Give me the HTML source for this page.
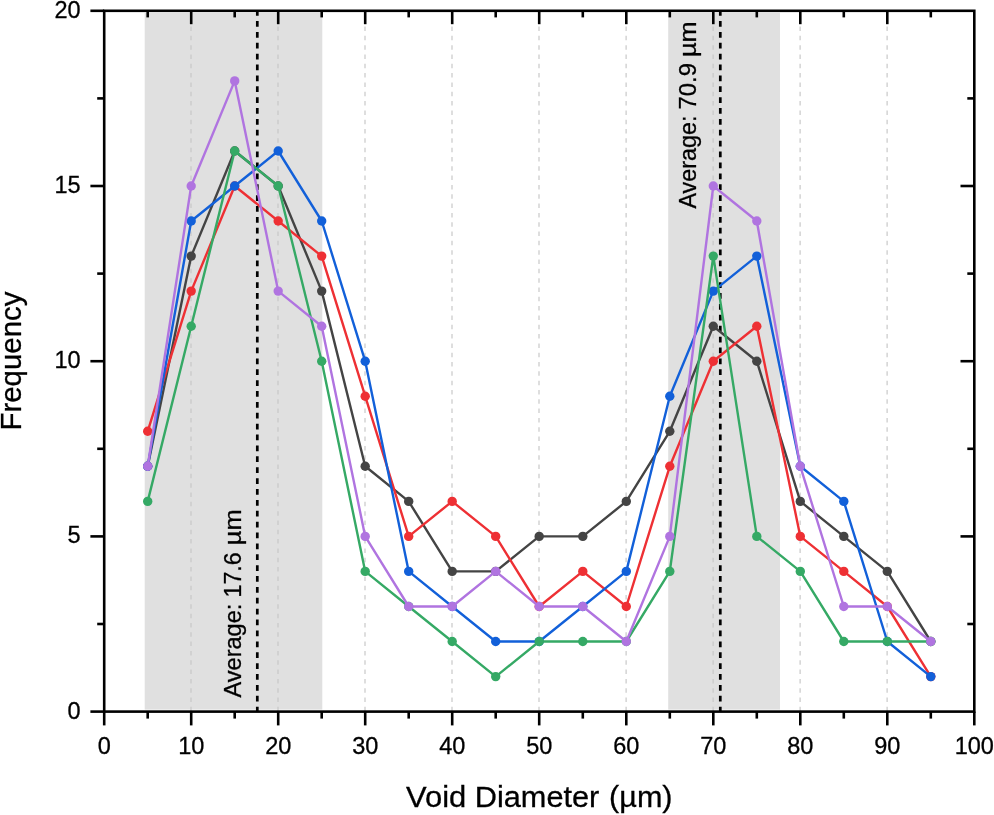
<!DOCTYPE html>
<html><head><meta charset="utf-8"><title>Void Diameter Frequency</title>
<style>html,body{margin:0;padding:0;background:#fff;}body{width:994px;height:815px;overflow:hidden;font-family:"Liberation Sans",sans-serif;}svg{display:block;will-change:transform;}text{font-family:"Liberation Sans",sans-serif;fill:#000;stroke:#000;stroke-width:0.3px;}</style></head><body>
<svg width="994" height="815" viewBox="0 0 994 815">
<rect width="994" height="815" fill="#fff"/>
<rect x="144.7" y="12.8" width="177.6" height="696.8" fill="#e0e0e0"/>
<rect x="668.2" y="12.8" width="111.8" height="696.8" fill="#e0e0e0"/>
<line x1="191.0" y1="26.5" x2="191.0" y2="711.6" stroke="#c6c6c6" stroke-width="1.15" stroke-dasharray="4.5 4.82"/>
<line x1="278.0" y1="26.5" x2="278.0" y2="711.6" stroke="#c6c6c6" stroke-width="1.15" stroke-dasharray="4.5 4.82"/>
<line x1="365.0" y1="26.5" x2="365.0" y2="711.6" stroke="#c6c6c6" stroke-width="1.15" stroke-dasharray="4.5 4.82"/>
<line x1="452.0" y1="26.5" x2="452.0" y2="711.6" stroke="#c6c6c6" stroke-width="1.15" stroke-dasharray="4.5 4.82"/>
<line x1="539.0" y1="26.5" x2="539.0" y2="711.6" stroke="#c6c6c6" stroke-width="1.15" stroke-dasharray="4.5 4.82"/>
<line x1="626.1" y1="26.5" x2="626.1" y2="711.6" stroke="#c6c6c6" stroke-width="1.15" stroke-dasharray="4.5 4.82"/>
<line x1="713.1" y1="26.5" x2="713.1" y2="711.6" stroke="#c6c6c6" stroke-width="1.15" stroke-dasharray="4.5 4.82"/>
<line x1="800.1" y1="26.5" x2="800.1" y2="711.6" stroke="#c6c6c6" stroke-width="1.15" stroke-dasharray="4.5 4.82"/>
<line x1="887.1" y1="26.5" x2="887.1" y2="711.6" stroke="#c6c6c6" stroke-width="1.15" stroke-dasharray="4.5 4.82"/>
<line x1="257.3" y1="10.12" x2="257.3" y2="711.6" stroke="#000" stroke-width="2.7" stroke-dasharray="5.75 5.134"/>
<line x1="720.3" y1="10.12" x2="720.3" y2="711.6" stroke="#000" stroke-width="2.7" stroke-dasharray="5.75 5.134"/>
<polyline points="147.7,466.3 191.2,256.1 234.7,151.0 278.2,186.0 321.7,291.1 365.2,466.3 408.7,501.4 452.2,571.4 495.7,571.4 539.2,536.4 582.8,536.4 626.3,501.4 669.8,431.3 713.3,326.2 756.8,361.2 800.3,501.4 843.8,536.4 887.3,571.4 930.8,641.5" fill="none" stroke="#444444" stroke-width="2.4" stroke-linejoin="round"/>
<g fill="#444444"><circle cx="147.7" cy="466.3" r="4.7"/><circle cx="191.2" cy="256.1" r="4.7"/><circle cx="234.7" cy="151.0" r="4.7"/><circle cx="278.2" cy="186.0" r="4.7"/><circle cx="321.7" cy="291.1" r="4.7"/><circle cx="365.2" cy="466.3" r="4.7"/><circle cx="408.7" cy="501.4" r="4.7"/><circle cx="452.2" cy="571.4" r="4.7"/><circle cx="495.7" cy="571.4" r="4.7"/><circle cx="539.2" cy="536.4" r="4.7"/><circle cx="582.8" cy="536.4" r="4.7"/><circle cx="626.3" cy="501.4" r="4.7"/><circle cx="669.8" cy="431.3" r="4.7"/><circle cx="713.3" cy="326.2" r="4.7"/><circle cx="756.8" cy="361.2" r="4.7"/><circle cx="800.3" cy="501.4" r="4.7"/><circle cx="843.8" cy="536.4" r="4.7"/><circle cx="887.3" cy="571.4" r="4.7"/><circle cx="930.8" cy="641.5" r="4.7"/></g>
<polyline points="147.7,431.3 191.2,291.1 234.7,186.0 278.2,221.0 321.7,256.1 365.2,396.2 408.7,536.4 452.2,501.4 495.7,536.4 539.2,606.5 582.8,571.4 626.3,606.5 669.8,466.3 713.3,361.2 756.8,326.2 800.3,536.4 843.8,571.4 887.3,606.5 930.8,676.6" fill="none" stroke="#ee3034" stroke-width="2.4" stroke-linejoin="round"/>
<g fill="#ee3034"><circle cx="147.7" cy="431.3" r="4.7"/><circle cx="191.2" cy="291.1" r="4.7"/><circle cx="234.7" cy="186.0" r="4.7"/><circle cx="278.2" cy="221.0" r="4.7"/><circle cx="321.7" cy="256.1" r="4.7"/><circle cx="365.2" cy="396.2" r="4.7"/><circle cx="408.7" cy="536.4" r="4.7"/><circle cx="452.2" cy="501.4" r="4.7"/><circle cx="495.7" cy="536.4" r="4.7"/><circle cx="539.2" cy="606.5" r="4.7"/><circle cx="582.8" cy="571.4" r="4.7"/><circle cx="626.3" cy="606.5" r="4.7"/><circle cx="669.8" cy="466.3" r="4.7"/><circle cx="713.3" cy="361.2" r="4.7"/><circle cx="756.8" cy="326.2" r="4.7"/><circle cx="800.3" cy="536.4" r="4.7"/><circle cx="843.8" cy="571.4" r="4.7"/><circle cx="887.3" cy="606.5" r="4.7"/><circle cx="930.8" cy="676.6" r="4.7"/></g>
<polyline points="147.7,466.3 191.2,221.0 234.7,186.0 278.2,151.0 321.7,221.0 365.2,361.2 408.7,571.4 452.2,606.5 495.7,641.5 539.2,641.5 582.8,606.5 626.3,571.4 669.8,396.2 713.3,291.1 756.8,256.1 800.3,466.3 843.8,501.4 887.3,641.5 930.8,676.6" fill="none" stroke="#1260d9" stroke-width="2.4" stroke-linejoin="round"/>
<g fill="#1260d9"><circle cx="147.7" cy="466.3" r="4.7"/><circle cx="191.2" cy="221.0" r="4.7"/><circle cx="234.7" cy="186.0" r="4.7"/><circle cx="278.2" cy="151.0" r="4.7"/><circle cx="321.7" cy="221.0" r="4.7"/><circle cx="365.2" cy="361.2" r="4.7"/><circle cx="408.7" cy="571.4" r="4.7"/><circle cx="452.2" cy="606.5" r="4.7"/><circle cx="495.7" cy="641.5" r="4.7"/><circle cx="539.2" cy="641.5" r="4.7"/><circle cx="582.8" cy="606.5" r="4.7"/><circle cx="626.3" cy="571.4" r="4.7"/><circle cx="669.8" cy="396.2" r="4.7"/><circle cx="713.3" cy="291.1" r="4.7"/><circle cx="756.8" cy="256.1" r="4.7"/><circle cx="800.3" cy="466.3" r="4.7"/><circle cx="843.8" cy="501.4" r="4.7"/><circle cx="887.3" cy="641.5" r="4.7"/><circle cx="930.8" cy="676.6" r="4.7"/></g>
<polyline points="147.7,501.4 191.2,326.2 234.7,151.0 278.2,186.0 321.7,361.2 365.2,571.4 408.7,606.5 452.2,641.5 495.7,676.6 539.2,641.5 582.8,641.5 626.3,641.5 669.8,571.4 713.3,256.1 756.8,536.4 800.3,571.4 843.8,641.5 887.3,641.5 930.8,641.5" fill="none" stroke="#35a965" stroke-width="2.4" stroke-linejoin="round"/>
<g fill="#35a965"><circle cx="147.7" cy="501.4" r="4.7"/><circle cx="191.2" cy="326.2" r="4.7"/><circle cx="234.7" cy="151.0" r="4.7"/><circle cx="278.2" cy="186.0" r="4.7"/><circle cx="321.7" cy="361.2" r="4.7"/><circle cx="365.2" cy="571.4" r="4.7"/><circle cx="408.7" cy="606.5" r="4.7"/><circle cx="452.2" cy="641.5" r="4.7"/><circle cx="495.7" cy="676.6" r="4.7"/><circle cx="539.2" cy="641.5" r="4.7"/><circle cx="582.8" cy="641.5" r="4.7"/><circle cx="626.3" cy="641.5" r="4.7"/><circle cx="669.8" cy="571.4" r="4.7"/><circle cx="713.3" cy="256.1" r="4.7"/><circle cx="756.8" cy="536.4" r="4.7"/><circle cx="800.3" cy="571.4" r="4.7"/><circle cx="843.8" cy="641.5" r="4.7"/><circle cx="887.3" cy="641.5" r="4.7"/><circle cx="930.8" cy="641.5" r="4.7"/></g>
<polyline points="147.7,466.3 191.2,186.0 234.7,80.9 278.2,291.1 321.7,326.2 365.2,536.4 408.7,606.5 452.2,606.5 495.7,571.4 539.2,606.5 582.8,606.5 626.3,641.5 669.8,536.4 713.3,186.0 756.8,221.0 800.3,466.3 843.8,606.5 887.3,606.5 930.8,641.5" fill="none" stroke="#b074e0" stroke-width="2.4" stroke-linejoin="round"/>
<g fill="#b074e0"><circle cx="147.7" cy="466.3" r="4.7"/><circle cx="191.2" cy="186.0" r="4.7"/><circle cx="234.7" cy="80.9" r="4.7"/><circle cx="278.2" cy="291.1" r="4.7"/><circle cx="321.7" cy="326.2" r="4.7"/><circle cx="365.2" cy="536.4" r="4.7"/><circle cx="408.7" cy="606.5" r="4.7"/><circle cx="452.2" cy="606.5" r="4.7"/><circle cx="495.7" cy="571.4" r="4.7"/><circle cx="539.2" cy="606.5" r="4.7"/><circle cx="582.8" cy="606.5" r="4.7"/><circle cx="626.3" cy="641.5" r="4.7"/><circle cx="669.8" cy="536.4" r="4.7"/><circle cx="713.3" cy="186.0" r="4.7"/><circle cx="756.8" cy="221.0" r="4.7"/><circle cx="800.3" cy="466.3" r="4.7"/><circle cx="843.8" cy="606.5" r="4.7"/><circle cx="887.3" cy="606.5" r="4.7"/><circle cx="930.8" cy="641.5" r="4.7"/></g>
<g stroke="#000" stroke-width="2.6" fill="none" stroke-linecap="butt">
<rect x="104.2" y="10.8" width="870.1" height="700.8"/>
<line x1="104.2" y1="711.6" x2="104.2" y2="725.4"/>
<line x1="147.7" y1="711.6" x2="147.7" y2="718.6"/>
<line x1="147.7" y1="10.8" x2="147.7" y2="17.4"/>
<line x1="191.2" y1="711.6" x2="191.2" y2="725.4"/>
<line x1="191.2" y1="10.8" x2="191.2" y2="24.2"/>
<line x1="234.7" y1="711.6" x2="234.7" y2="718.6"/>
<line x1="234.7" y1="10.8" x2="234.7" y2="17.4"/>
<line x1="278.2" y1="711.6" x2="278.2" y2="725.4"/>
<line x1="278.2" y1="10.8" x2="278.2" y2="24.2"/>
<line x1="321.7" y1="711.6" x2="321.7" y2="718.6"/>
<line x1="321.7" y1="10.8" x2="321.7" y2="17.4"/>
<line x1="365.2" y1="711.6" x2="365.2" y2="725.4"/>
<line x1="365.2" y1="10.8" x2="365.2" y2="24.2"/>
<line x1="408.7" y1="711.6" x2="408.7" y2="718.6"/>
<line x1="408.7" y1="10.8" x2="408.7" y2="17.4"/>
<line x1="452.2" y1="711.6" x2="452.2" y2="725.4"/>
<line x1="452.2" y1="10.8" x2="452.2" y2="24.2"/>
<line x1="495.7" y1="711.6" x2="495.7" y2="718.6"/>
<line x1="495.7" y1="10.8" x2="495.7" y2="17.4"/>
<line x1="539.2" y1="711.6" x2="539.2" y2="725.4"/>
<line x1="539.2" y1="10.8" x2="539.2" y2="24.2"/>
<line x1="582.8" y1="711.6" x2="582.8" y2="718.6"/>
<line x1="582.8" y1="10.8" x2="582.8" y2="17.4"/>
<line x1="626.3" y1="711.6" x2="626.3" y2="725.4"/>
<line x1="626.3" y1="10.8" x2="626.3" y2="24.2"/>
<line x1="669.8" y1="711.6" x2="669.8" y2="718.6"/>
<line x1="669.8" y1="10.8" x2="669.8" y2="17.4"/>
<line x1="713.3" y1="711.6" x2="713.3" y2="725.4"/>
<line x1="713.3" y1="10.8" x2="713.3" y2="24.2"/>
<line x1="756.8" y1="711.6" x2="756.8" y2="718.6"/>
<line x1="756.8" y1="10.8" x2="756.8" y2="17.4"/>
<line x1="800.3" y1="711.6" x2="800.3" y2="725.4"/>
<line x1="800.3" y1="10.8" x2="800.3" y2="24.2"/>
<line x1="843.8" y1="711.6" x2="843.8" y2="718.6"/>
<line x1="843.8" y1="10.8" x2="843.8" y2="17.4"/>
<line x1="887.3" y1="711.6" x2="887.3" y2="725.4"/>
<line x1="887.3" y1="10.8" x2="887.3" y2="24.2"/>
<line x1="930.8" y1="711.6" x2="930.8" y2="718.6"/>
<line x1="930.8" y1="10.8" x2="930.8" y2="17.4"/>
<line x1="974.3" y1="711.6" x2="974.3" y2="725.4"/>
<line x1="104.2" y1="711.6" x2="90.4" y2="711.6"/>
<line x1="104.2" y1="624.0" x2="97.2" y2="624.0"/>
<line x1="974.3" y1="624.0" x2="967.3" y2="624.0"/>
<line x1="104.2" y1="536.4" x2="90.4" y2="536.4"/>
<line x1="974.3" y1="536.4" x2="960.5" y2="536.4"/>
<line x1="104.2" y1="448.8" x2="97.2" y2="448.8"/>
<line x1="974.3" y1="448.8" x2="967.3" y2="448.8"/>
<line x1="104.2" y1="361.2" x2="90.4" y2="361.2"/>
<line x1="974.3" y1="361.2" x2="960.5" y2="361.2"/>
<line x1="104.2" y1="273.6" x2="97.2" y2="273.6"/>
<line x1="974.3" y1="273.6" x2="967.3" y2="273.6"/>
<line x1="104.2" y1="186.0" x2="90.4" y2="186.0"/>
<line x1="974.3" y1="186.0" x2="960.5" y2="186.0"/>
<line x1="104.2" y1="98.4" x2="97.2" y2="98.4"/>
<line x1="974.3" y1="98.4" x2="967.3" y2="98.4"/>
<line x1="104.2" y1="10.8" x2="90.4" y2="10.8"/>
</g>
<text x="104.2" y="754.3" font-size="23.5" text-anchor="middle">0</text>
<text x="191.2" y="754.3" font-size="23.5" text-anchor="middle">10</text>
<text x="278.2" y="754.3" font-size="23.5" text-anchor="middle">20</text>
<text x="365.2" y="754.3" font-size="23.5" text-anchor="middle">30</text>
<text x="452.2" y="754.3" font-size="23.5" text-anchor="middle">40</text>
<text x="539.2" y="754.3" font-size="23.5" text-anchor="middle">50</text>
<text x="626.3" y="754.3" font-size="23.5" text-anchor="middle">60</text>
<text x="713.3" y="754.3" font-size="23.5" text-anchor="middle">70</text>
<text x="800.3" y="754.3" font-size="23.5" text-anchor="middle">80</text>
<text x="887.3" y="754.3" font-size="23.5" text-anchor="middle">90</text>
<text x="974.3" y="754.3" font-size="23.5" text-anchor="middle">100</text>
<text x="80.7" y="718.5" font-size="23.5" text-anchor="end">0</text>
<text x="80.7" y="543.3" font-size="23.5" text-anchor="end">5</text>
<text x="80.7" y="368.1" font-size="23.5" text-anchor="end">10</text>
<text x="80.7" y="192.9" font-size="23.5" text-anchor="end">15</text>
<text x="80.7" y="17.7" font-size="23.5" text-anchor="end">20</text>
<text x="406.14" y="807.40" font-size="30" textLength="60.20" lengthAdjust="spacingAndGlyphs">Void</text>
<text x="474.74" y="807.40" font-size="30" textLength="124.57" lengthAdjust="spacingAndGlyphs">Diameter</text>
<text x="609.12" y="807.40" font-size="30" textLength="63.44" lengthAdjust="spacingAndGlyphs">(µm)</text>
<text transform="translate(21.40,430.55) rotate(-90)" x="0.00" y="0" font-size="30" textLength="139.00" lengthAdjust="spacingAndGlyphs">Frequency</text>
<text transform="translate(241.00,697.40) rotate(-90)" x="0.00" y="0" font-size="23.3" textLength="93.70" lengthAdjust="spacingAndGlyphs">Average:</text>
<text transform="translate(241.00,697.40) rotate(-90)" x="99.96" y="0" font-size="23.3" textLength="45.13" lengthAdjust="spacingAndGlyphs">17.6</text>
<text transform="translate(241.00,697.40) rotate(-90)" x="152.16" y="0" font-size="23.3" textLength="35.99" lengthAdjust="spacingAndGlyphs">µm</text>
<text transform="translate(696.30,208.60) rotate(-90)" x="0.00" y="0" font-size="23.3" textLength="93.19" lengthAdjust="spacingAndGlyphs">Average:</text>
<text transform="translate(696.30,208.60) rotate(-90)" x="99.02" y="0" font-size="23.3" textLength="46.50" lengthAdjust="spacingAndGlyphs">70.9</text>
<text transform="translate(696.30,208.60) rotate(-90)" x="151.57" y="0" font-size="23.3" textLength="35.71" lengthAdjust="spacingAndGlyphs">µm</text>
</svg></body></html>
